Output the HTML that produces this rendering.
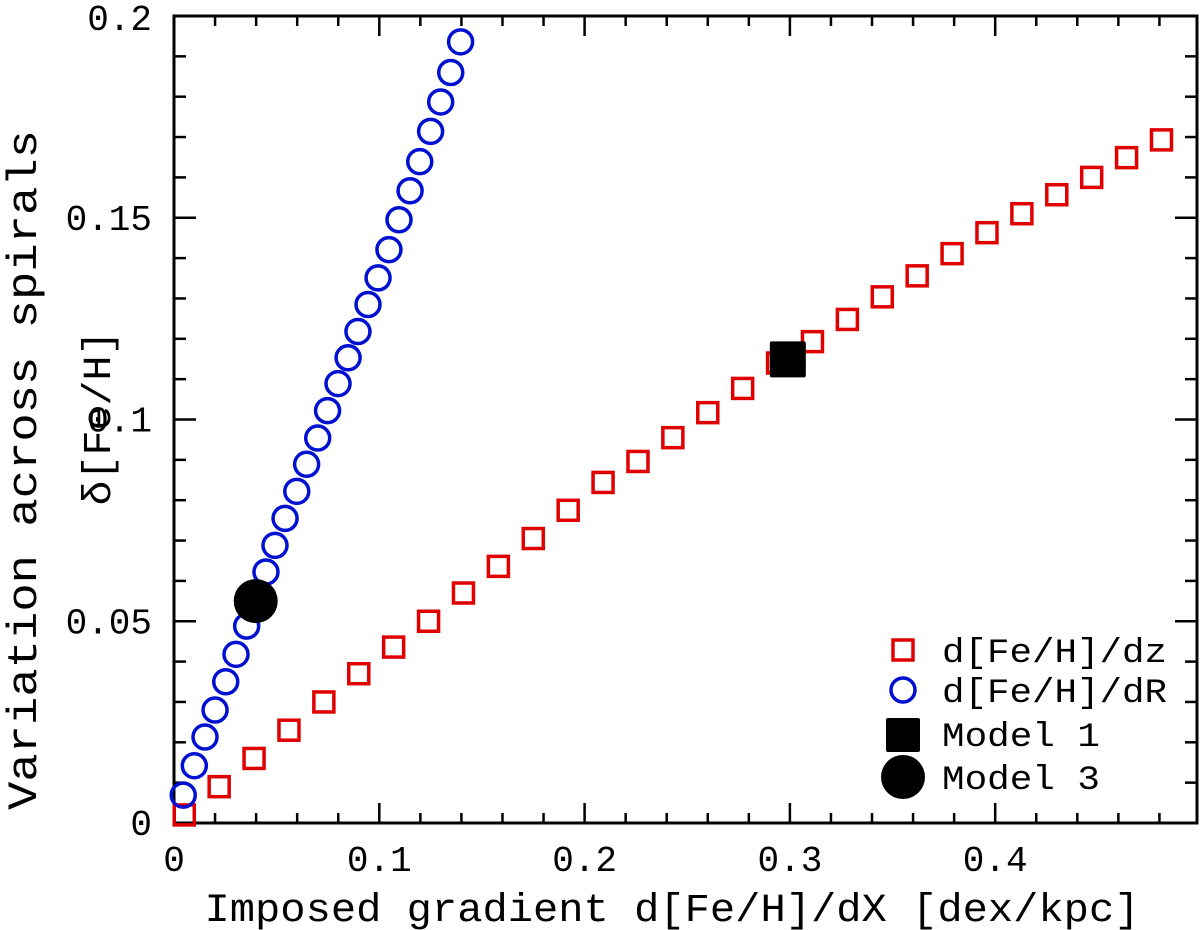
<!DOCTYPE html>
<html><head><meta charset="utf-8"><style>
html,body{margin:0;padding:0;background:#fff;}
svg{display:block;}
text{font-family:"Liberation Mono",monospace;fill:#000;}
</style></head><body>
<svg id="chart" width="1200" height="930" viewBox="0 0 1200 930" xmlns="http://www.w3.org/2000/svg">
<g id="axes"></g>
<g id="marks"></g>
<text x="672" y="921" text-anchor="middle" font-size="40" textLength="935" lengthAdjust="spacingAndGlyphs">Imposed gradient d[Fe/H]/dX [dex/kpc]</text>
<text transform="translate(36,470) rotate(-90)" text-anchor="middle" font-size="42" textLength="680" lengthAdjust="spacingAndGlyphs">Variation across spirals</text>
<text transform="translate(110,418) rotate(-90)" text-anchor="middle" font-size="40" textLength="175" lengthAdjust="spacingAndGlyphs">δ[Fe/H]</text>
<g id="legend"></g>
</svg>
<script>
const xTicks=[0,0.1,0.2,0.3,0.4];
const xTickLabels=["0","0.1","0.2","0.3","0.4"];
const yTicks=[0,0.05,0.1,0.15,0.2];
const yTickLabels=["0","0.05","0.1","0.15","0.2"];
const dzX=[0.005,0.022,0.039,0.056,0.073,0.090,0.107,0.124,0.141,0.158,0.175,0.192,0.209,0.226,0.243,0.260,0.277,0.294,0.311,0.328,0.345,0.362,0.379,0.396,0.413,0.430,0.447,0.464,0.481];
const dzY=[0.002,0.009,0.016,0.023,0.030,0.037,0.0436,0.050,0.057,0.0636,0.0705,0.0775,0.0844,0.0896,0.0955,0.1017,0.1077,0.114,0.1193,0.1248,0.1304,0.1356,0.1411,0.1463,0.151,0.1557,0.160,0.1649,0.1693];
const dRX=[0.0045,0.0099,0.0151,0.0200,0.0252,0.0302,0.0354,0.040,0.0448,0.0492,0.0541,0.0598,0.0646,0.0700,0.0748,0.0799,0.0848,0.0896,0.0945,0.0994,0.1047,0.1096,0.1150,0.1197,0.1250,0.1299,0.1348,0.1396];
const dRY=[0.0069,0.0142,0.0213,0.0280,0.0350,0.0418,0.0488,0.0554,0.0622,0.0688,0.0755,0.0822,0.0889,0.0954,0.1022,0.1089,0.1153,0.1218,0.1285,0.1351,0.1421,0.1495,0.1567,0.1639,0.1714,0.1787,0.1860,0.1936];
const model1X=[0.299];
const model1Y=[0.1149];
const model3X=[0.0398];
const model3Y=[0.055];

const L=174,R=1197,T=16,B=823,XMAX=0.4983,YMAX=0.2;
const sx=v=>L+v/XMAX*(R-L);
const sy=v=>B-v/YMAX*(B-T);
const NS="http://www.w3.org/2000/svg";
function mk(tag,attrs,parent){const e=document.createElementNS(NS,tag);for(const k in attrs)e.setAttribute(k,attrs[k]);parent.appendChild(e);return e;}
const axes=document.getElementById('axes'),marks=document.getElementById('marks'),leg=document.getElementById('legend');

const frame=mk('rect',{x:L,y:T,width:R-L,height:B-T,fill:'none',stroke:'#000','stroke-width':3},axes);


for(let i=0;i<=24;i++){const v=i*0.02;if(v>XMAX)break;const major=(i%5===0);const len=major?20:10;const x=sx(v);
 const t1=mk('line',{x1:x,x2:x,y1:B,y2:B-len,stroke:'#000','stroke-width':2.5},axes);
 
 
 const t2=mk('line',{x1:x,x2:x,y1:T,y2:T+len,stroke:'#000','stroke-width':2.5},axes);
 
 }
for(let i=0;i<=20;i++){const v=i*0.01;const major=(i%5===0);const len=major?22:12;const y=sy(v);
 const t1=mk('line',{x1:L,x2:L+len,y1:y,y2:y,stroke:'#000','stroke-width':2.5},axes);
 
 
 const t2=mk('line',{x1:R,x2:R-len,y1:y,y2:y,stroke:'#000','stroke-width':2.5},axes);
 
 }
xTicks.forEach((v,i)=>{const t=mk('text',{x:sx(v),y:871,'text-anchor':'middle','font-size':36},axes);t.textContent=xTickLabels[i];
 
 });
yTicks.forEach((v,i)=>{let y=sy(v)+12;if(i===yTicks.length-1)y=sy(v)+14;const t=mk('text',{x:152,y:y,'text-anchor':'end','font-size':36},axes);t.textContent=yTickLabels[i];
 
 });

dzX.forEach((v,i)=>{const s=20;const r=mk('rect',{x:sx(v)-s/2,y:sy(dzY[i])-s/2,width:s,height:s,fill:'none',stroke:'#e00000','stroke-width':3.5},marks);
 
 });
dRX.forEach((v,i)=>{const c=mk('circle',{cx:sx(v),cy:sy(dRY[i]),r:12,fill:'none',stroke:'#0010d0','stroke-width':3.5},marks);
 
 });
model1X.forEach((v,i)=>{const s=36;const r=mk('rect',{x:sx(v)-s/2,y:sy(model1Y[i])-s/2,width:s,height:s,rx:2,fill:'#000'},marks);
 
 });
model3X.forEach((v,i)=>{const c=mk('circle',{cx:sx(v),cy:sy(model3Y[i]),r:22,fill:'#000'},marks);
 
 });

const e1=mk('rect',{x:893,y:640,width:20,height:20,fill:'none',stroke:'#e00000','stroke-width':3.5},leg);


const e2=mk('circle',{cx:903,cy:690,r:12,fill:'none',stroke:'#0010d0','stroke-width':3.5},leg);


const e3=mk('rect',{x:886,y:718,width:34,height:34,rx:2,fill:'#000'},leg);


const e4=mk('circle',{cx:903,cy:777,r:22,fill:'#000'},leg);


const labels=[["d[Fe/H]/dz",662,225],["d[Fe/H]/dR",702,225],["Model 1",746,158],["Model 3",789,158]];
labels.forEach(l=>{const t=mk('text',{x:942,y:l[1],'font-size':34,textLength:l[2],lengthAdjust:'spacingAndGlyphs'},leg);t.textContent=l[0];
 
 });
</script>
</body></html>
